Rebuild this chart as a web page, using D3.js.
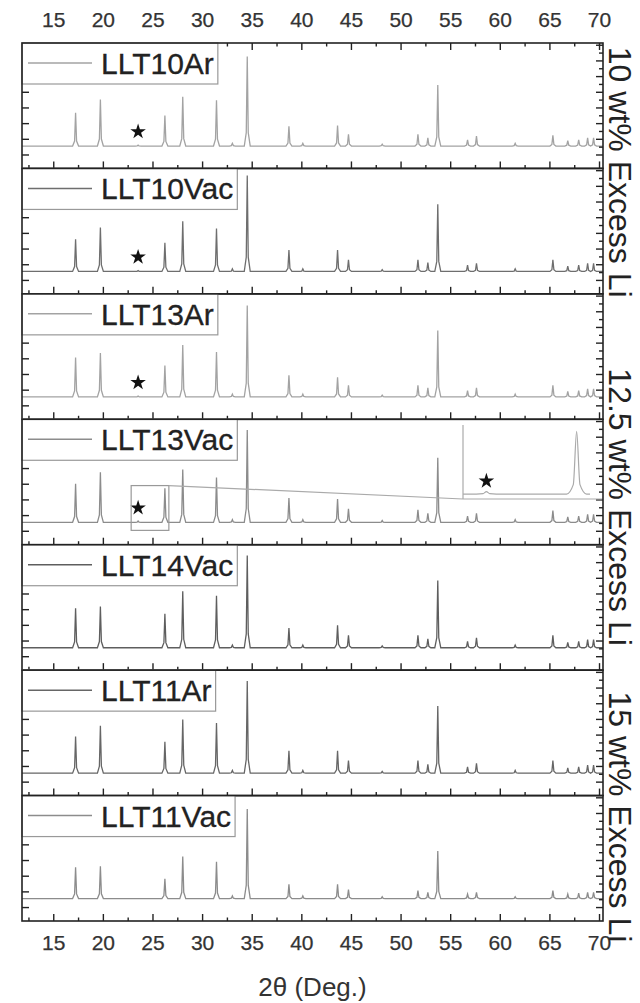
<!DOCTYPE html>
<meta charset="utf-8">
<head>
	<title>XRD panels</title>
</head>

<style>
body { margin: 0; background: #fff; }
text { font-family: "Liberation Sans", Arial, sans-serif; }
</style>

<body>
	<svg width="640" height="1003"></svg>

	<script src="https://d3js.org/d3.v7.min.js"></script>
	<script>
// peak positions (2 theta) and intensities, main peak ~100
var peakPos = [17.2, 19.7, 23.5, 26.2, 28.0, 31.4, 33.0, 34.5, 38.7, 40.1, 43.6, 44.7,
	48.1, 51.7, 52.7, 53.7, 56.7, 57.6, 61.5, 65.3, 66.8, 67.9, 68.8, 69.4];

var samples = ['LLT10Ar', 'LLT10Vac', 'LLT13Ar', 'LLT13Vac', 'LLT14Vac', 'LLT11Ar', 'LLT11Vac'];

var llt10Ar  = [37, 52, 1, 34, 55, 51, 3, 100, 22, 3, 23, 13, 2, 13, 9, 68, 7, 11, 3, 12, 6, 7, 9, 9];
var llt10Vac = [36, 49, 1, 32, 56, 48, 3, 107, 24, 3, 24, 13, 2, 13, 10, 75, 7, 9, 3, 13, 6, 7, 9, 9];
var llt13Ar  = [44, 49, 1, 35, 58, 50, 3, 102, 24, 3, 22, 13, 2, 13, 10, 74, 7, 10, 3, 13, 6, 7, 9, 9];
var llt13Vac = [43, 56, 1.5, 38, 59, 50, 3, 103, 27, 3, 26, 15, 2, 14, 10, 72, 7, 10, 3, 13, 6, 7, 9, 9];
var llt14Vac = [44, 46, 0, 38, 63, 58, 3, 103, 22, 3, 25, 14, 2, 14, 10, 75, 7, 11, 3, 14, 6, 7, 9, 9];
var llt11Ar  = [41, 53, 0, 35, 60, 56, 3, 103, 25, 3, 25, 14, 2, 14, 10, 75, 7, 11, 3, 14, 6, 7, 9, 9];
var llt11Vac = [35, 36, 0, 22, 47, 41, 3, 100, 16, 3, 16, 10, 2, 9, 7, 53, 5, 7, 2, 9, 5, 6, 7, 7];

var series = [llt10Ar, llt10Vac, llt13Ar, llt13Vac, llt14Vac, llt11Ar, llt11Vac];
var colors = ['#a3a3a3', '#6e6e6e', '#a3a3a3', '#8c8c8c', '#5e5e5e', '#666', '#8c8c8c'];

// panels that carry the impurity star
var starPanels = [0, 1, 2, 3];
var starPos = 23.5, starLevel = 16;

var xTicks = [15, 20, 25, 30, 35, 40, 45, 50, 55, 60, 65, 70];

// side labels, mid given in panel units from the top
var groups = [
	{label: '10 wt% Excess Li', mid: 1.03},
	{label: '12.5 wt% Excess Li', mid: 3.7},
	{label: '15 wt% Excess Li', mid: 6.17}
];

// inset window on LLT13Vac
var insetPanel = 3;
var insetX = [22.8, 26.6], insetY = [-9, 41];
var insetYDomain = [-3, 40];

var pLeft = 22, pRight = 603, pTop = 43, pBottom = 921;
var ph = (pBottom - pTop) / samples.length;

var svg = d3.select('svg');

var x = d3.scaleLinear().domain([11.8, 70.35]).range([pLeft, pRight]);

function profile(vals) {
	var pts = [[11.8, 0]];
	peakPos.forEach(function(p, i) {
		var v = vals[i];
		pts.push([p - 0.3, 0], [p - 0.1, v * 0.15], [p, v], [p + 0.1, v * 0.15], [p + 0.3, 0]);
	});
	pts.push([70.35, 0]);
	return pts;
}

var minorTicks = d3.range(12.5, 70.1, 2.5);
var yMajor = d3.range(-10, 115, 17.5);
var yMinor = d3.range(-1.25, 115, 17.5);

samples.forEach(function(name, k) {
	var y0 = pTop + k * ph, y1 = y0 + ph;
	var y = d3.scaleLinear().domain([-25, 115]).range([y1, y0]);
	var g = svg.append('g');

	g.append('clipPath').attr('id', 'clip' + k)
		.append('rect').attr('x', pLeft).attr('y', y0).attr('width', pRight - pLeft).attr('height', ph);

	var line = d3.line().x(function(d) {return x(d[0]);}).y(function(d) {return y(d[1]);});
	var pts = profile(series[k]);

	g.append('path')
		.attr('d', line(pts))
		.attr('clip-path', 'url(#clip' + k + ')')
		.attr('fill', 'none')
		.attr('stroke', colors[k])
		.attr('stroke-width', 1.3);

	if (starPanels.indexOf(k) >= 0) {
		g.append('path')
			.attr('d', d3.symbol(d3.symbolStar, 75)())
			.attr('transform', 'translate(' + x(starPos) + ',' + y(starLevel) + ')')
			.attr('fill', '#111');
	}

	// bottom ticks of each panel point inward
	g.selectAll('.tb').data(minorTicks).enter().append('line')
		.attr('x1', function(d) {return x(d);}).attr('x2', function(d) {return x(d);})
		.attr('y1', y1).attr('y2', function(d) {return y1 - (d % 5 === 0 ? 7 : 3.5);})
		.attr('stroke', '#222').attr('stroke-width', 1.4);

	if (k === 0) {
		g.selectAll('.tt').data(minorTicks).enter().append('line')
			.attr('x1', function(d) {return x(d);}).attr('x2', function(d) {return x(d);})
			.attr('y1', y0).attr('y2', function(d) {return y0 + (d % 5 === 0 ? 7 : 3.5);})
			.attr('stroke', '#222').attr('stroke-width', 1.4);
	}

	// left and right y ticks
	g.selectAll('.yl').data(yMajor).enter().append('line')
		.attr('x1', pLeft).attr('x2', pLeft + 7)
		.attr('y1', function(d) {return y(d);}).attr('y2', function(d) {return y(d);})
		.attr('stroke', '#222').attr('stroke-width', 1.4);
	g.selectAll('.yr').data(yMajor).enter().append('line')
		.attr('x1', pRight).attr('x2', pRight - 7)
		.attr('y1', function(d) {return y(d);}).attr('y2', function(d) {return y(d);})
		.attr('stroke', '#222').attr('stroke-width', 1.4);
	g.selectAll('.yr2').data(yMinor).enter().append('line')
		.attr('x1', pRight).attr('x2', pRight - 4)
		.attr('y1', function(d) {return y(d);}).attr('y2', function(d) {return y(d);})
		.attr('stroke', '#222').attr('stroke-width', 1.4);

	// inset
	if (k === insetPanel) {
		var bx0 = x(insetX[0]), bx1 = x(insetX[1]);
		var by0 = y(insetY[1]), by1 = y(insetY[0]);
		g.append('rect')
			.attr('x', bx0).attr('y', by0).attr('width', bx1 - bx0).attr('height', by1 - by0)
			.attr('fill', 'none').attr('stroke', '#999').attr('stroke-width', 1.2);

		var ix = d3.scaleLinear().domain(insetX).range([463, 590]);
		var iy = d3.scaleLinear().domain(insetYDomain).range([499, 428]);
		g.append('line')
			.attr('x1', bx1).attr('y1', by0).attr('x2', ix.range()[0]).attr('y2', iy.range()[0])
			.attr('stroke', '#aaa').attr('stroke-width', 1.2);
		g.append('line')
			.attr('x1', ix.range()[0]).attr('y1', 499).attr('x2', pRight).attr('y2', 499)
			.attr('stroke', '#aaa').attr('stroke-width', 1.2);
		g.append('line')
			.attr('x1', ix.range()[0]).attr('y1', 425).attr('x2', ix.range()[0]).attr('y2', 499)
			.attr('stroke', '#aaa').attr('stroke-width', 1.2);

		g.append('clipPath').attr('id', 'iclip')
			.append('rect').attr('x', ix.range()[0]).attr('y', 420).attr('width', ix.range()[1] - ix.range()[0]).attr('height', 80);
		var iline = d3.line().x(function(d) {return ix(d[0]);}).y(function(d) {return iy(d[1]);})
			.curve(d3.curveMonotoneX);
		g.append('path')
			.attr('d', iline(pts))
			.attr('clip-path', 'url(#iclip)')
			.attr('fill', 'none').attr('stroke', '#aaa').attr('stroke-width', 1.2);
		g.append('path')
			.attr('d', d3.symbol(d3.symbolStar, 75)())
			.attr('transform', 'translate(' + ix(starPos) + ',' + (iy(0) - 13) + ')')
			.attr('fill', '#111');
	}

	// legend
	var lg = g.append('g');
	var box = lg.append('rect')
		.attr('x', pLeft).attr('y', y0).attr('height', 41)
		.attr('fill', '#fff').attr('stroke', '#999').attr('stroke-width', 1.2);
	lg.append('line')
		.attr('x1', pLeft + 6).attr('x2', pLeft + 70).attr('y1', y0 + 20).attr('y2', y0 + 20)
		.attr('stroke', colors[k]).attr('stroke-width', 1.5);
	var t = lg.append('text')
		.attr('x', pLeft + 79).attr('y', y0 + 31)
		.attr('font-size', 30).attr('fill', '#222')
		.attr('stroke', '#222').attr('stroke-width', 0.3)
		.text(name);
	var tw = t.node().getComputedTextLength();
	box.attr('width', 79 + tw + 4);

	g.append('rect')
		.attr('x', pLeft).attr('y', y0).attr('width', pRight - pLeft).attr('height', ph)
		.attr('fill', 'none').attr('stroke', '#222').attr('stroke-width', 1.6);
});

// tick labels top and bottom
svg.selectAll('.lt').data(xTicks).enter().append('text')
	.attr('x', function(d) {return x(d);}).attr('y', 27)
	.attr('text-anchor', 'middle').attr('font-size', 21).attr('fill', '#333')
	.attr('stroke', '#333').attr('stroke-width', 0.25)
	.text(function(d) {return d;});
svg.selectAll('.lb').data(xTicks).enter().append('text')
	.attr('x', function(d) {return x(d);}).attr('y', 950)
	.attr('text-anchor', 'middle').attr('font-size', 21).attr('fill', '#333')
	.attr('stroke', '#333').attr('stroke-width', 0.25)
	.text(function(d) {return d;});

svg.append('text')
	.attr('x', (pLeft + pRight) / 2).attr('y', 996)
	.attr('text-anchor', 'middle').attr('font-size', 26).attr('fill', '#333')
	.text('2\u03b8 (Deg.)');

groups.forEach(function(gr) {
	var cy = pTop + gr.mid * ph;
	svg.append('text')
		.attr('transform', 'translate(620,' + cy + ') rotate(90)')
		.attr('text-anchor', 'middle').attr('dominant-baseline', 'central')
		.attr('font-size', 32).attr('fill', '#222')
		.text(gr.label);
});
	</script>
</body>
</html>
